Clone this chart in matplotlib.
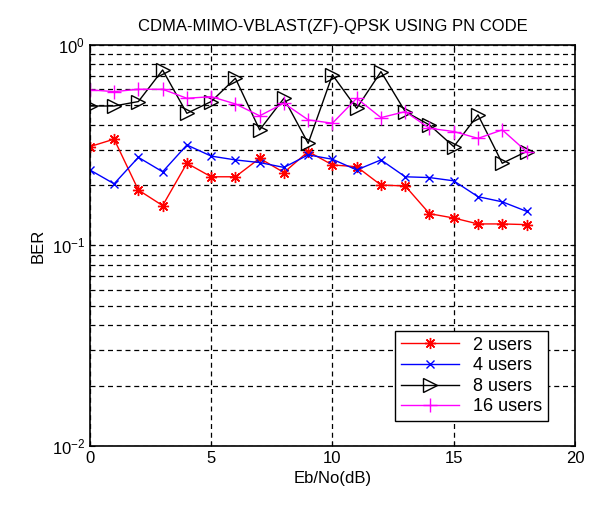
import numpy as np
import matplotlib.pyplot as plt
from matplotlib.ticker import LogLocator, NullFormatter

plt.rcParams['font.family'] = ['Liberation Sans Narrow', 'Liberation Sans', 'DejaVu Sans']

# Eb/No (dB)
ebno = list(range(19))

# BER per user count
ber_2 = [0.311, 0.339, 0.189, 0.158, 0.257, 0.220, 0.220, 0.272, 0.231, 0.294,
         0.252, 0.247, 0.200, 0.198, 0.144, 0.137, 0.128, 0.128, 0.127]
ber_4 = [0.238, 0.203, 0.275, 0.233, 0.317, 0.279, 0.267, 0.259, 0.245, 0.283,
         0.269, 0.238, 0.267, 0.220, 0.218, 0.210, 0.175, 0.165, 0.148]
ber_8 = [0.496, 0.496, 0.522, 0.750, 0.456, 0.522, 0.682, 0.377, 0.542, 0.323,
         0.709, 0.483, 0.736, 0.465, 0.399, 0.311, 0.448, 0.257, 0.294]
ber_16 = [0.597, 0.585, 0.601, 0.601, 0.542, 0.552, 0.508, 0.443, 0.512, 0.423,
          0.407, 0.542, 0.434, 0.465, 0.384, 0.370, 0.342, 0.377, 0.294]

fig = plt.figure(figsize=(5.99, 5.05), dpi=100)
ax = fig.add_axes([0.150, 0.117, 0.810, 0.794])

# MATLAB-style asterisk (8 arms)
ax.semilogy(ebno, ber_2, '-', marker=(8, 2, 0), color='red', lw=1, ms=8,
            mew=1.0, label='2 users')
ax.semilogy(ebno, ber_4, '-x', color='blue', lw=1, ms=6, label='4 users')
ax.semilogy(ebno, ber_8, '->', color='black', lw=1, ms=10,
            markerfacecolor='none', label='8 users')
ax.semilogy(ebno, ber_16, '-+', color='magenta', lw=1, ms=10, label='16 users')

ax.set_xlim(0, 20)
ax.set_ylim(1e-2, 1)
ax.set_xticks([0, 5, 10, 15, 20])
ax.yaxis.set_major_locator(LogLocator(base=10, numticks=5))
ax.yaxis.set_minor_locator(LogLocator(base=10, subs=np.arange(2, 10), numticks=20))
ax.yaxis.set_minor_formatter(NullFormatter())

ax.grid(True, which='major', ls=(0, (4, 3)), color='black', lw=0.9)
ax.grid(True, which='minor', axis='y', ls=(0, (4, 3)), color='black', lw=0.9)
ax.tick_params(which='both', direction='in', top=True, right=True, labelsize=12)
ax.tick_params(which='minor', length=3)
for s in ax.spines.values():
    s.set_linewidth(1.2)

ax.set_title('CDMA-MIMO-VBLAST(ZF)-QPSK USING PN CODE', fontsize=12, pad=10)
ax.set_xlabel('Eb/No(dB)', fontsize=12)
ax.set_ylabel('BER', fontsize=12)

leg = ax.legend(loc='lower right', bbox_to_anchor=(0.962, 0.04), fontsize=13,
                fancybox=False, framealpha=1, edgecolor='black',
                handlelength=3.2, borderpad=0.3, labelspacing=0.2)
leg.get_frame().set_linewidth(1.0)

fig.savefig('out.png', dpi=100)
